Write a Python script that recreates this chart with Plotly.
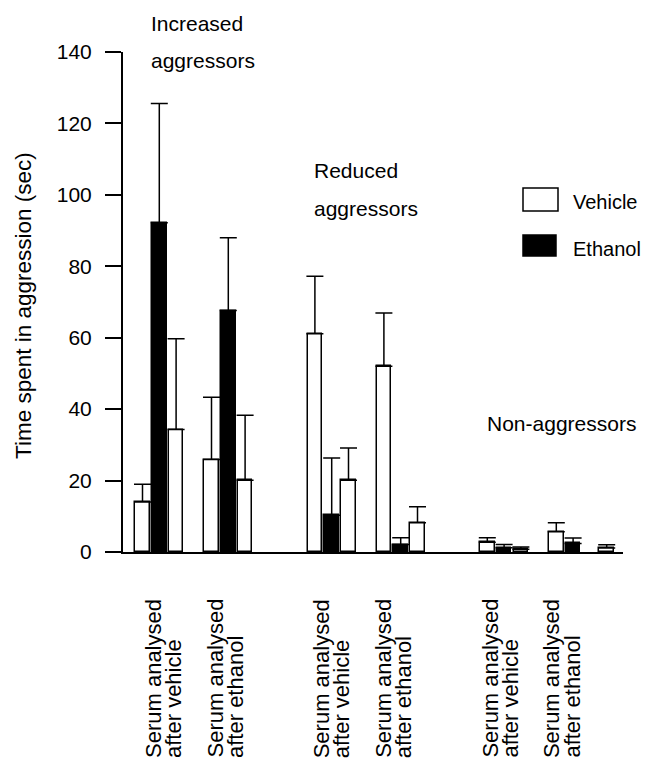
import plotly.graph_objects as go

# ---------------- data ----------------
group_titles = [["Increased", "aggressors"], ["Reduced", "aggressors"], ["Non-aggressors"]]
subgroup_labels = [["Serum analysed", "after vehicle"], ["Serum analysed", "after ethanol"]]
treatments = ["Vehicle", "Ethanol", "Vehicle"]

# mean time spent in aggression (sec): [subgroup][bar]
means_increased = [[14.0, 92.2, 34.3], [25.9, 67.6, 20.1]]
means_reduced = [[61.1, 10.3, 20.1], [52.0, 2.1, 8.2]]
means_non = [[2.7, 1.2, 0.8], [5.7, 2.4, 1.1]]

# upper error (SEM)
sem_increased = [[5.0, 33.4, 25.4], [17.4, 20.4, 18.2]]
sem_reduced = [[16.1, 16.0, 9.0], [14.9, 1.9, 4.5]]
sem_non = [[1.3, 0.9, 0.6], [2.5, 1.5, 0.9]]

# bar slot within each triplet (last triplet has a skipped slot)
slots_increased = [[0, 1, 2], [0, 1, 2]]
slots_reduced = [[0, 1, 2], [0, 1, 2]]
slots_non = [[0, 1, 2], [0, 1, 3]]

y_ticks = [0, 20, 40, 60, 80, 100, 120, 140]
y_title = "Time spent in aggression (sec)"
legend_labels = ["Vehicle", "Ethanol"]

means = [means_increased, means_reduced, means_non]
sems = [sem_increased, sem_reduced, sem_non]
slots = [slots_increased, slots_reduced, slots_non]

# ---------------- layout constants ----------------
OFF = 8  # page body margin
W, H = 650 - OFF, 762 - OFF
ML, MT, PW, PH = 123 - OFF, 52 - OFF, 500, 500
MR, MB = W - ML - PW, H - MT - PH
X0, SLOT, SUB, GROUP, BAR_W = 19.5, 16.8, 69.0, 172.4, 14.6
FONT = "Liberation Sans, Arial, Helvetica, sans-serif"


def px_x(px):
    return (px - OFF - ML) / PW


def px_y(py):
    return (MT + PH - (py - OFF)) / PH


fill = {"Vehicle": "white", "Ethanol": "black"}
series = {"Vehicle": {"x": [], "y": [], "e": []}, "Ethanol": {"x": [], "y": [], "e": []}}
for g in range(len(means)):
    for s in range(len(means[g])):
        for b, tr in enumerate(treatments):
            series[tr]["x"].append(X0 + g * GROUP + s * SUB + slots[g][s][b] * SLOT)
            series[tr]["y"].append(means[g][s][b])
            series[tr]["e"].append(sems[g][s][b])

fig = go.Figure()
for tr in legend_labels:
    d = series[tr]
    fig.add_trace(go.Bar(
        x=d["x"], y=d["y"], width=BAR_W, name=tr, showlegend=False,
        marker=dict(color=fill[tr], line=dict(color="black", width=1.5)),
        error_y=dict(type="data", symmetric=False, array=d["e"],
                     arrayminus=[0] * len(d["e"]), color="black",
                     thickness=1.5, width=8.5),
    ))

annotations = []
# group titles
title_pos = [(149.3, [23.5, 60.5]), (311.7, [170, 208.5]), (485, [423.3])]
for (gx, ys), lines in zip(title_pos, group_titles):
    for yy, t in zip(ys, lines):
        annotations.append(dict(text=t, x=px_x(gx), y=px_y(yy), xref="paper", yref="paper",
                                xanchor="left", yanchor="middle", showarrow=False,
                                font=dict(size=21, color="black", family=FONT)))

# x category labels (rotated)
for g in range(3):
    for s in range(2):
        cx = 163.5 + g * 168.3 + s * 61.5
        for li, t in enumerate(subgroup_labels[s]):
            lx = cx + (-10 if li == 0 else 10)
            annotations.append(dict(text=t, x=px_x(lx), y=px_y(760), xref="paper", yref="paper",
                                    xanchor="center", yanchor="bottom", textangle=-90,
                                    showarrow=False,
                                    font=dict(size=22, color="black", family=FONT)))

# y-axis title
annotations.append(dict(text=y_title, x=px_x(23), y=px_y(306), xref="paper", yref="paper",
                        xanchor="center", yanchor="middle", textangle=-90, showarrow=False,
                        font=dict(size=22.5, color="black", family=FONT)))

# legend (drawn manually to match the large swatches)
shapes = [
    dict(type="rect", xref="paper", yref="paper", x0=px_x(523), x1=px_x(558),
         y0=px_y(211), y1=px_y(188), fillcolor="white", line=dict(color="black", width=1.5)),
    dict(type="rect", xref="paper", yref="paper", x0=px_x(523), x1=px_x(556),
         y0=px_y(256), y1=px_y(235), fillcolor="black", line=dict(color="black", width=1.5)),
]
for t, yy in zip(legend_labels, [202, 249]):
    annotations.append(dict(text=t, x=px_x(571), y=px_y(yy), xref="paper", yref="paper",
                            xanchor="left", yanchor="middle", showarrow=False,
                            font=dict(size=20, color="black", family=FONT)))

fig.update_layout(
    width=W, height=H, margin=dict(l=ML, r=MR, t=MT, b=MB, pad=0),
    paper_bgcolor="white", plot_bgcolor="white", bargap=0,
    font=dict(family=FONT, size=21, color="black"),
    xaxis=dict(range=[0, PW], showline=True, linecolor="black", linewidth=2,
               showticklabels=False, ticks="", showgrid=False, zeroline=False),
    yaxis=dict(range=[0, 140], tickvals=y_ticks, ticks="outside", ticklen=16,
               tickwidth=1.5, tickcolor="black", showline=True, linecolor="black",
               linewidth=2, showgrid=False, zeroline=False,
               tickfont=dict(size=21, color="black", family=FONT), ticklabelstandoff=9),
    annotations=annotations, shapes=shapes,
)

fig.write_html("out.html")
